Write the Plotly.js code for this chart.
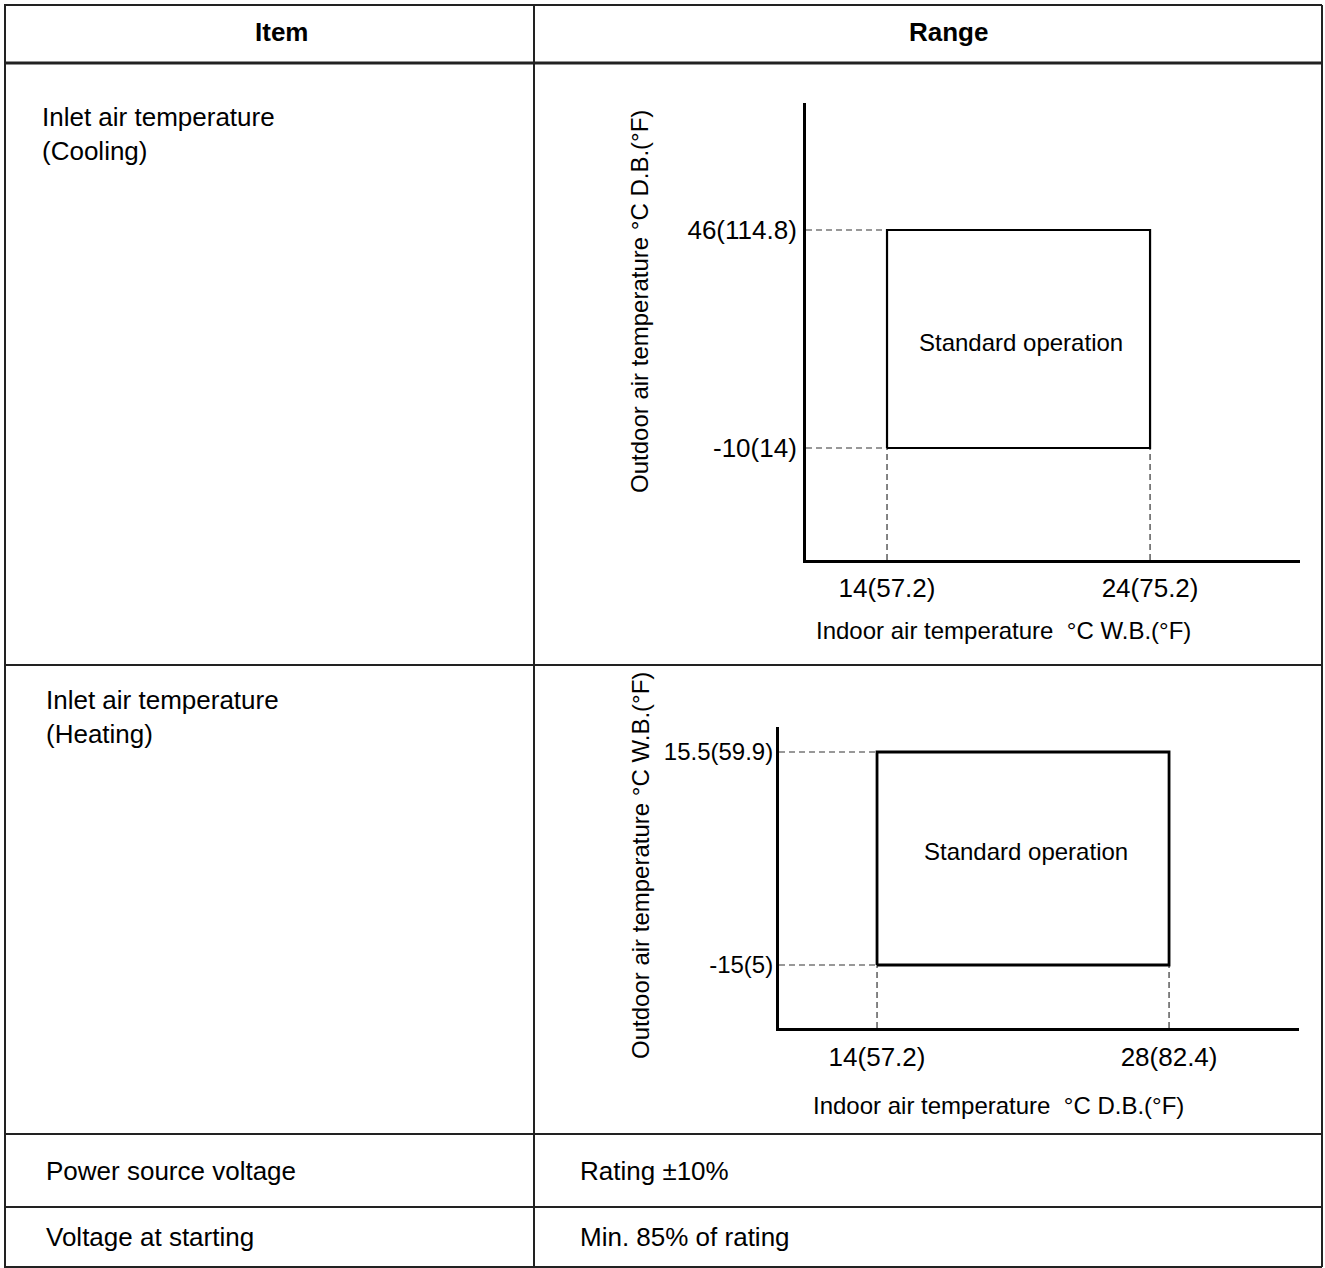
<!DOCTYPE html>
<html>
<head>
<meta charset="utf-8">
<script src="https://cdn.plot.ly/plotly-3.0.1.min.js"></script>
<style>
  html, body { margin: 0; padding: 0; background: #ffffff; }
  #chart { width: 1325px; height: 1268px; }
</style>
</head>
<body>
<div id="chart"></div>
<script>
// ---------- DATA ----------
const tableHeaders = ["Item", "Range"];
const rowItems = ["Inlet air temperature<br>(Cooling)", "Inlet air temperature<br>(Heating)", "Power source voltage", "Voltage at starting"];
const rowRanges = ["Rating ±10%", "Min. 85% of rating"];

const coolIndoorWB = [14, 24];                 // °C W.B.
const coolIndoorLabels = ["14(57.2)", "24(75.2)"];
const coolOutdoorDB = [-10, 46];               // °C D.B.
const coolOutdoorLabels = ["-10(14)", "46(114.8)"];

const heatIndoorDB = [14, 28];                 // °C D.B.
const heatIndoorLabels = ["14(57.2)", "28(82.4)"];
const heatOutdoorWB = [-15, 15.5];             // °C W.B.
const heatOutdoorLabels = ["-15(5)", "15.5(59.9)"];

const regionLabel = "Standard operation";
const coolXTitle = "Indoor air temperature  °C W.B.(°F)";
const coolYTitle = "Outdoor air temperature °C D.B.(°F)";
const heatXTitle = "Indoor air temperature  °C D.B.(°F)";
const heatYTitle = "Outdoor air temperature °C W.B.(°F)";

// ---------- LAYOUT HELPERS ----------
const W = 1325, H = 1268;
const px = x => x / W;
const py = y => 1 - y / H;
const FONT = "Liberation Sans, Arial, sans-serif";

const coolXRange = [10.92, 29.70];
const coolYRange = [-38.77, 78.62];
const heatXRange = [9.30, 34.23];
const heatYRange = [-24.02, 19.08];

function rectTrace(xs, ys, xa, ya, w) {
  return {
    x: [xs[0], xs[1], xs[1], xs[0], xs[0]],
    y: [ys[0], ys[0], ys[1], ys[1], ys[0]],
    xaxis: xa, yaxis: ya, mode: "lines", type: "scatter",
    line: { color: "#000000", width: w }, hoverinfo: "skip", cliponaxis: false
  };
}
function dashTrace(xs, ys, xr, yr, xa, ya) {
  return {
    x: [xr[0], xs[0], null, xr[0], xs[0], null, xs[0], xs[0], null, xs[1], xs[1]],
    y: [ys[0], ys[0], null, ys[1], ys[1], null, yr[0], ys[0], null, yr[0], ys[0]],
    xaxis: xa, yaxis: ya, mode: "lines", type: "scatter",
    line: { color: "#333333", width: 1.2, dash: "6px,4px" }, hoverinfo: "skip", cliponaxis: false
  };
}

const traces = [
  dashTrace(coolIndoorWB, coolOutdoorDB, coolXRange, coolYRange, "x", "y"),
  rectTrace(coolIndoorWB, coolOutdoorDB, "x", "y", 2.2),
  dashTrace(heatIndoorDB, heatOutdoorWB, heatXRange, heatYRange, "x2", "y2"),
  rectTrace(heatIndoorDB, heatOutdoorWB, "x2", "y2", 2.8)
];

function axisBase(extra, fs) {
  return Object.assign({
    showline: true, linecolor: "#000000", linewidth: 3,
    showgrid: false, zeroline: false, ticks: "",
    tickfont: { family: FONT, size: fs, color: "#000000" },
    fixedrange: true
  }, extra);
}

// table lines
const lc = "#222222";
const shapes = [];
function hline(y, x0, x1, w) {
  shapes.push({ type: "line", xref: "paper", yref: "paper", x0: px(x0), x1: px(x1), y0: py(y), y1: py(y), line: { color: lc, width: w || 2 } });
}
function vline(x, y0, y1, w) {
  shapes.push({ type: "line", xref: "paper", yref: "paper", x0: px(x), x1: px(x), y0: py(y0), y1: py(y1), line: { color: lc, width: w || 2 } });
}
hline(5, 4, 1322); hline(63, 4, 1322, 3); hline(665, 4, 1322); hline(1134, 4, 1322); hline(1207, 4, 1322); hline(1267, 4, 1322);
vline(5, 5, 1267); vline(534, 5, 1267); vline(1322, 5, 1267);

const annotations = [];
function ann(text, x, y, opts) {
  annotations.push(Object.assign({
    text: text, xref: "paper", yref: "paper", x: px(x), y: py(y),
    showarrow: false, font: { family: FONT, size: 26, color: "#000000" },
    xanchor: "center", yanchor: "middle", align: "left"
  }, opts || {}));
}
ann("<b>" + tableHeaders[0] + "</b>", 281, 32);
ann("<b>" + tableHeaders[1] + "</b>", 948, 32);
ann(rowItems[0], 40, 100, { xanchor: "left", yanchor: "top" });
ann(rowItems[1], 44, 683, { xanchor: "left", yanchor: "top" });
ann(rowItems[2], 44, 1171, { xanchor: "left" });
ann(rowItems[3], 44, 1237, { xanchor: "left" });
ann(rowRanges[0], 578, 1171, { xanchor: "left" });
ann(rowRanges[1], 578, 1237, { xanchor: "left" });

// chart titles
const tf = { family: FONT, size: 24, color: "#000000" };
ann(coolXTitle, 1003, 630, { font: tf });
ann(coolYTitle, 640, 302, { font: tf, textangle: -90 });
ann(heatXTitle, 998, 1105, { font: tf });
ann(heatYTitle, 640, 866, { font: tf, textangle: -90 });

// region labels at the rectangle centres (data coords)
annotations.push({ text: regionLabel, xref: "x", yref: "y",
  x: (coolIndoorWB[0] + coolIndoorWB[1]) / 2, y: (coolOutdoorDB[0] + coolOutdoorDB[1]) / 2,
  yshift: -4, xshift: 2,
  showarrow: false, font: tf, xanchor: "center", yanchor: "middle" });
annotations.push({ text: regionLabel, xref: "x2", yref: "y2",
  x: (heatIndoorDB[0] + heatIndoorDB[1]) / 2, y: (heatOutdoorWB[0] + heatOutdoorWB[1]) / 2,
  yshift: 7, xshift: 3,
  showarrow: false, font: tf, xanchor: "center", yanchor: "middle" });

const layout = {
  width: W, height: H,
  margin: { l: 0, r: 0, t: 0, b: 0, pad: 0 },
  paper_bgcolor: "#ffffff", plot_bgcolor: "rgba(0,0,0,0)",
  showlegend: false, hovermode: false,
  font: { family: FONT, color: "#000000" },
  xaxis: axisBase({ domain: [px(806), px(1300)], range: coolXRange, anchor: "y",
    tickvals: coolIndoorWB, ticktext: coolIndoorLabels, ticklabelstandoff: 3 }, 26),
  yaxis: axisBase({ domain: [py(560), py(103)], range: coolYRange, anchor: "x",
    tickvals: coolOutdoorDB, ticktext: coolOutdoorLabels, ticklabelstandoff: 1 }, 26),
  xaxis2: axisBase({ domain: [px(779), px(1299)], range: heatXRange, anchor: "y2",
    tickvals: heatIndoorDB, ticktext: heatIndoorLabels, ticklabelstandoff: 4 }, 26),
  yaxis2: axisBase({ domain: [py(1028), py(727)], range: heatYRange, anchor: "x2",
    tickvals: heatOutdoorWB, ticktext: heatOutdoorLabels, ticklabelstandoff: -2 }, 24),
  shapes: shapes,
  annotations: annotations
};

Plotly.newPlot("chart", traces, layout, { staticPlot: true, displayModeBar: false });
</script>
</body>
</html>
